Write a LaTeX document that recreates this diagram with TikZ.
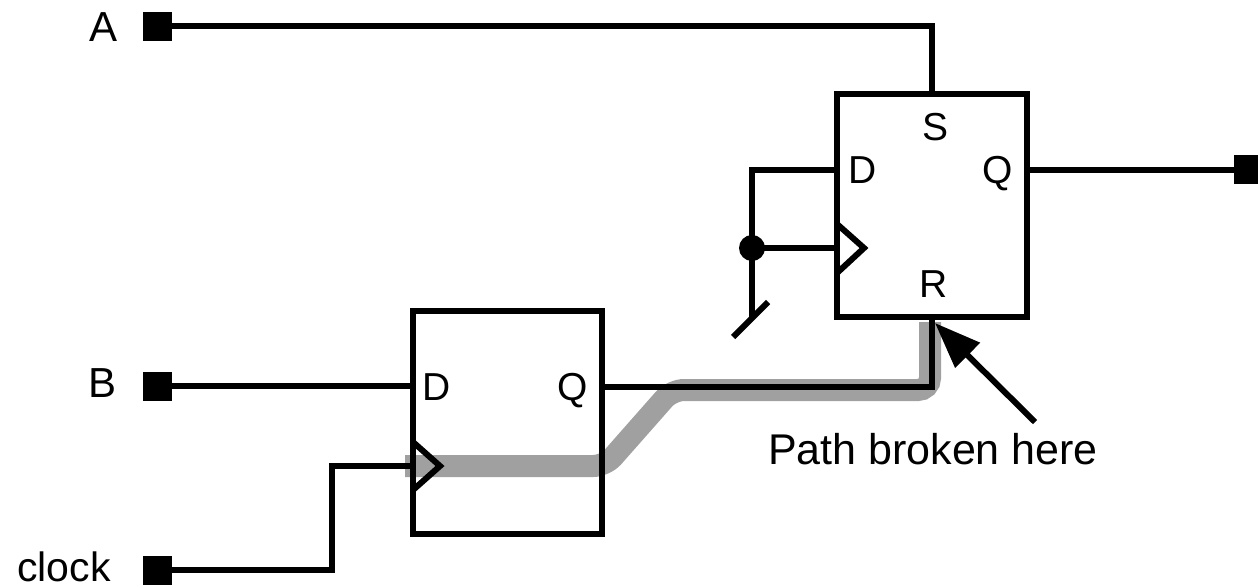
\documentclass[tikz,border=0pt]{standalone}
\usepackage{fontspec}
\setmainfont{Liberation Sans}
\usetikzlibrary{arrows.meta}
\begin{document}
\begin{tikzpicture}[x=1pt,y=-1pt,
  term/.style={fill=black, minimum size=29pt, inner sep=0pt, outer sep=0pt},
  ff/.style={draw, line width=6pt, inner sep=0pt},
  wire/.style={line width=6pt},
  greyp/.style={line width=22pt, color={rgb,255:red,160;green,160;blue,160}, rounded corners=12pt},
  lbl/.style={inner sep=0pt, anchor=base, font=\fontsize{42}{48}\selectfont},
  plbl/.style={inner sep=0pt, anchor=base, font=\fontsize{39}{45}\selectfont}
]
\useasboundingbox (0,0) rectangle (1258,587);

% highlighted path
\draw[greyp] (405,466) -- (605,466) -- (672,390) -- (930,390) -- (930,322);

% flip-flops
\node[ff, minimum width=189pt, minimum height=223pt] (lff) at (507.5,422.5) {};
\node[ff, minimum width=190pt, minimum height=223pt] (uff) at (932,205.5) {};

% terminals
\node[term] (A) at (157,26) {};
\node[term] (B) at (157,386) {};
\node[term] (clk) at (157,570) {};
\node[term] (out) at (1248,169) {};

% labels
\node[lbl] (tA) at (104,41) {A};
\node[lbl] (tB) at (103,397) {B};
\node[lbl, font=\fontsize{41}{46}\selectfont] (tclk) at (64,581) {clock};
\node[lbl, font=\fontsize{43}{48}\selectfont] (tpb) at (933,464) {Path broken here};

\node[plbl] (lD) at (437,400) {D};
\node[plbl] (lQ) at (573,400) {Q};
\node[plbl] (uS) at (935,140) {S};
\node[plbl] (uD) at (863,183) {D};
\node[plbl] (uQ) at (998,183) {Q};
\node[plbl] (uR) at (934,297) {R};

% pin coordinates
\coordinate (lclk) at (413,466);
\coordinate (bend) at (332,466);
\coordinate (lq) at (602,387);
\coordinate (ud) at (837,170);
\coordinate (uclk) at (837,248);
\coordinate (fb) at (752,170);
\coordinate (gnd) at (752,318);
\coordinate (s1) at (733,337);
\coordinate (s2) at (768,302);
\coordinate (uq) at (1027,170);
\coordinate (tail) at (1035,422);
\coordinate (brk) at (935,323);

% wires
\draw[wire] (A.east) -| (uff.north);
\draw[wire] (B.east) -- (B.east -| lff.west);
\draw[wire] (clk.east) -| (bend) -- (lclk);
\draw[wire] (lq) -| (uff.south);
\draw[wire] (ud) -- (fb) -- (gnd);
\node[circle, fill=black, minimum size=26pt, inner sep=0pt] (dot) at (752,248) {};
\draw[wire] (dot.center) -- (uclk);
\draw[wire] (s1) -- (s2);
\draw[wire] (uq) -- (uq -| out.west);

% clock triangles
\draw[wire] (413,442) -- (440,466) -- (413,490);
\draw[wire] (837,224) -- (864,248) -- (837,273);

% arrow
\draw[wire, -{Triangle[length=46pt,width=34pt]}] (tail) -- (brk);
\end{tikzpicture}
\end{document}
